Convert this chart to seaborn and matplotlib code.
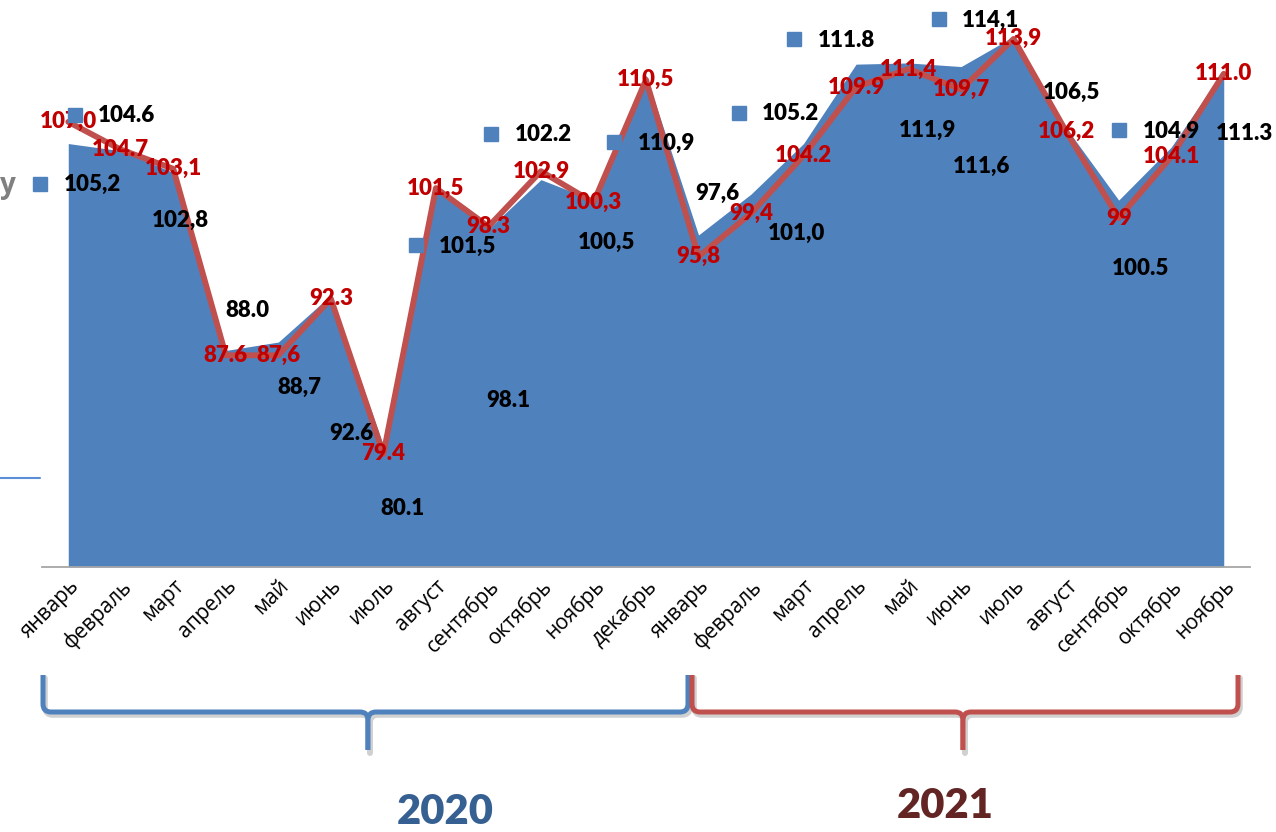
import matplotlib
matplotlib.use("Agg")
import matplotlib.pyplot as plt
import matplotlib.transforms as mtransforms
import numpy as np
import seaborn as sns
from matplotlib.path import Path
from matplotlib.patches import PathPatch

# Месяцы (2020 январь - 2021 ноябрь)
months = ["январь", "февраль", "март", "апрель", "май", "июнь", "июль", "август",
          "сентябрь", "октябрь", "ноябрь", "декабрь",
          "январь", "февраль", "март", "апрель", "май", "июнь", "июль", "август",
          "сентябрь", "октябрь", "ноябрь"]

# Синяя область (чёрные подписи)
area_vals = [105.2, 104.6, 102.8, 88.0, 88.7, 92.6, 80.1, 101.5, 98.1, 102.2, 100.5, 110.9,
             97.6, 101.0, 105.2, 111.8, 111.9, 111.6, 114.1, 106.5, 100.5, 104.9, 111.3]
area_labels = ["105,2", "104.6", "102,8", "88.0", "88,7", "92.6", "80.1", "101,5", "98.1",
               "102.2", "100,5", "110,9", "97,6", "101,0", "105.2", "111.8", "111,9",
               "111,6", "114,1", "106,5", "100.5", "104.9", "111.3"]
area_key = [True, True, False, False, False, False, False, True, False, True, False, True,
            False, False, True, True, False, False, True, False, False, True, False]

# Красная линия (красные подписи)
line_vals = [107.0, 104.7, 103.1, 87.6, 87.6, 92.3, 79.4, 101.5, 98.3, 102.9, 100.3, 110.5,
             95.8, 99.4, 104.2, 109.9, 111.4, 109.7, 113.9, 106.2, 99.0, 104.1, 111.0]
line_labels = ["107,0", "104.7", "103,1", "87.6", "87,6", "92.3", "79.4", "101,5", "98.3",
               "102.9", "100,3", "110,5", "95,8", "99,4", "104.2", "109.9", "111,4",
               "109,7", "113,9", "106,2", "99", "104.1", "111.0"]

years = ["2020", "2021"]

# смещения чёрных подписей в пикселях (вправо, вниз)
label_offsets = [(24, 41), (6, -35), (7, 48), (22, -40), (21, 45), (20, 138), (19, 63),
                 (32, 58), (20, 172), (2, -45), (13, 42), (20, 68), (19, -42), (45, 39),
                 (-13, -30), (-10, -24), (19, 67), (20, 100), (-23, -16), (5, -35),
                 (22, 68), (0, -16), (21, 63)]

BLUE = "#4F81BD"
RED = "#C0504D"
NUMFONT = ["Lato", "DejaVu Sans"]

sns.set_style("white")
plt.rcParams["font.family"] = ["Open Sans", "DejaVu Sans"]

W, H = 1276, 832
fig = plt.figure(figsize=(W / 100, H / 100), dpi=100)

x0, x1, base = 42, 1250, 567
scale = 12.03
ax = fig.add_axes([x0 / W, 1 - base / H, (x1 - x0) / W, base / H])
ax.patch.set_alpha(0)

idx = np.arange(len(months))
ax.fill_between(idx, 70, area_vals, color=BLUE, lw=0, zorder=1)
sns.lineplot(x=idx, y=line_vals, color=RED, lw=4.2, ax=ax, zorder=2)

ax.set_xlim(-0.5, len(months) - 0.5)
ax.set_ylim(70, 70 + base / scale)
for s in ["top", "left", "right"]:
    ax.spines[s].set_visible(False)
ax.spines["bottom"].set_color("#A6A6A6")
ax.spines["bottom"].set_linewidth(1.3)
ax.set_yticks([])
ax.set_xticks(np.arange(-0.5, len(months)), labels=[])
ax.set_xticks(idx, labels=months, minor=True)
ax.tick_params(axis="x", which="major", length=6, width=1.2, color="#A6A6A6", direction="out")
ax.tick_params(axis="x", which="minor", length=0, pad=6, labelsize=15, labelcolor="black")
for lbl in ax.get_xticklabels(minor=True):
    lbl.set_rotation(45)
    lbl.set_ha("right")
    lbl.set_rotation_mode("anchor")

# красные подписи по центру точек
for i, (v, t) in enumerate(zip(line_vals, line_labels)):
    ax.annotate(t, (i, v), xytext=(0, 0), textcoords="offset pixels", ha="center", va="center",
                color="#C00000", fontsize=16, fontweight=800, family=NUMFONT,
                annotation_clip=False, zorder=4)

# чёрные подписи с ключами легенды
for i, (v, t) in enumerate(zip(area_vals, area_labels)):
    dx, dy = label_offsets[i]
    ax.annotate(t, (i, v), xytext=(dx, -dy), textcoords="offset pixels", ha="center", va="center",
                color="black", fontsize=16, fontweight=800, family=NUMFONT,
                annotation_clip=False, zorder=5)
    if area_key[i]:
        tr = ax.transData + mtransforms.ScaledTranslation((dx - 52) / 100, (-dy + 1) / 100,
                                                          fig.dpi_scale_trans)
        ax.plot([i], [v], marker="s", ms=10, color=BLUE, ls="none", transform=tr,
                clip_on=False, zorder=5)

# оверлей в пикселях изображения
ov = fig.add_axes([0, 0, 1, 1], zorder=-1)
ov.set_xlim(0, W)
ov.set_ylim(H, 0)
ov.axis("off")


def bracket(xl, xr, xm, ytop, ymid, ytip, color):
    r = 8
    for xe, sgn in [(xl, 1), (xr, -1)]:
        verts = [(xe, ytop), (xe, ymid - r), (xe, ymid), (xe + sgn * r, ymid),
                 (xm - sgn * r, ymid), (xm, ymid), (xm, ymid + r), (xm, ytip)]
        codes = [Path.MOVETO, Path.LINETO, Path.CURVE3, Path.CURVE3,
                 Path.LINETO, Path.CURVE3, Path.CURVE3, Path.LINETO]
        ov.add_patch(PathPatch(Path([(a + 2, b + 3) for a, b in verts], codes), fill=False,
                               lw=4, color="#D0D0D0", capstyle="round"))
        ov.add_patch(PathPatch(Path(verts, codes), fill=False, lw=3.6, color=color,
                               capstyle="butt", joinstyle="round"))


bracket(43, 688, 368, 675, 712, 750, BLUE)
bracket(692, 1238, 963, 675, 712, 750, RED)

ov.text(445, 812, years[0], ha="center", va="center", fontsize=30, fontweight=800,
        color="#376092", family=NUMFONT)
ov.text(945, 806, years[1], ha="center", va="center", fontsize=30, fontweight=800,
        color="#632523", family=NUMFONT)

# обрезанные фрагменты слева
ov.text(8, 186, "у", ha="center", va="center", fontsize=20, fontweight="bold", color="#808080")
ov.plot([0, 40], [478, 478], color="#5B8ED6", lw=1.5)

fig.savefig("out.png", dpi=100)
